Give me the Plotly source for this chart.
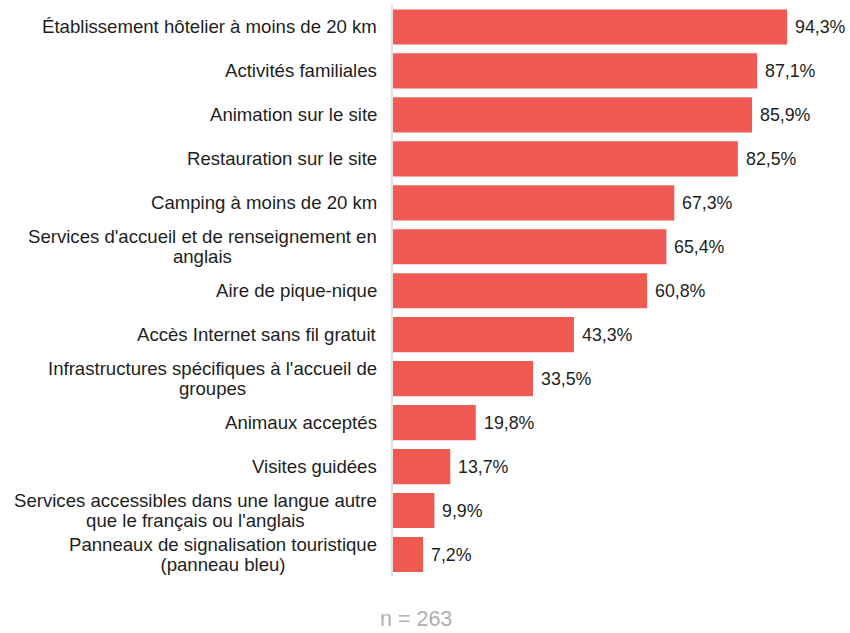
import plotly.graph_objects as go

categories = [
    "Établissement hôtelier à moins de 20 km",
    "Activités familiales",
    "Animation sur le site",
    "Restauration sur le site",
    "Camping à moins de 20 km",
    "Services d'accueil et de renseignement en<br>anglais",
    "Aire de pique-nique",
    "Accès Internet sans fil gratuit",
    "Infrastructures spécifiques à l'accueil de<br>groupes",
    "Animaux acceptés",
    "Visites guidées",
    "Services accessibles dans une langue autre<br>que le français ou l'anglais",
    "Panneaux de signalisation touristique<br>(panneau bleu)",
]
values = [94.3, 87.1, 85.9, 82.5, 67.3, 65.4, 60.8, 43.3, 33.5, 19.8, 13.7, 9.9, 7.2]
value_labels = [f"{v:.1f}%".replace(".", ",") for v in values]
caption = "n = 263"

FONT = "Liberation Sans, Arial, sans-serif"
TEXT_COLOR = "#1E1E1E"
LABEL_SIZE = 18.6
LINE_BASE = 15  # sets the spacing between wrapped lines (1.3 em of this size)

fig = go.Figure(
    go.Bar(
        x=values,
        y=categories,
        orientation="h",
        marker=dict(color="#F15A53", line=dict(width=0)),
        hoverinfo="skip",
    )
)

annotations = []
# Category labels: block right-aligned against the axis, lines centred inside the block
for cat in categories:
    lines = cat.split("<br>")
    txt = "<br>".join(f'<span style="font-size:{LABEL_SIZE}px">{ln}</span>' for ln in lines)
    annotations.append(
        dict(
            text=txt,
            x=0,
            xref="paper",
            y=cat,
            yref="y",
            xanchor="right",
            yanchor="middle",
            align="center",
            xshift=-14,
            showarrow=False,
            font=dict(size=LINE_BASE, color=TEXT_COLOR, family=FONT),
        )
    )

# Value labels just past the end of each bar
for cat, v, lab in zip(categories, values, value_labels):
    annotations.append(
        dict(
            text=lab,
            x=v,
            xref="x",
            y=cat,
            yref="y",
            xanchor="left",
            yanchor="middle",
            xshift=6,
            showarrow=False,
            font=dict(size=17.8, color=TEXT_COLOR, family=FONT),
        )
    )

annotations.append(
    dict(
        text=caption,
        xref="paper",
        yref="paper",
        x=(416 - 393) / 418,
        y=-(620 - 577.5) / 572.5,
        xanchor="center",
        yanchor="middle",
        showarrow=False,
        font=dict(size=21.5, color="#AFAFAF", family=FONT),
    )
)

fig.update_layout(
    width=850,
    height=633,
    margin=dict(l=393, r=39, t=5, b=55.5),
    paper_bgcolor="white",
    plot_bgcolor="white",
    bargap=0.2,
    showlegend=False,
    font=dict(family=FONT, size=16, color=TEXT_COLOR),
    xaxis=dict(range=[0, 100], visible=False, fixedrange=True),
    yaxis=dict(
        autorange="reversed",
        showline=True,
        linecolor="#E2E2E2",
        linewidth=2,
        showgrid=False,
        showticklabels=False,
        ticks="",
        fixedrange=True,
    ),
    annotations=annotations,
)

fig.write_html("out.html")
